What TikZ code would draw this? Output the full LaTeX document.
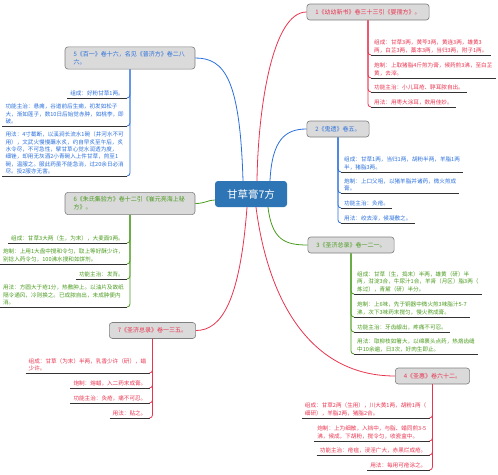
\documentclass[tikz,border=0pt]{standalone}
\usepackage{fontspec}
\setmainfont{Noto Sans CJK SC}
\usepackage{tikz}
\usetikzlibrary{positioning}
\definecolor{mapred}{HTML}{E8344F}
\definecolor{mapblue}{HTML}{2A6FDB}
\definecolor{mapgreen}{HTML}{4A9B1E}
\definecolor{hubblue}{HTML}{2E75B6}
\definecolor{topicgray}{HTML}{DADADA}
\definecolor{topicedge}{HTML}{7F7F7F}

\begin{document}
\begin{tikzpicture}[x=1pt, y=-1pt,
    hub/.style={fill=hubblue, rounded corners=3pt, text=white, font=\fontsize{10.5}{12}\selectfont, minimum width=72pt, minimum height=26pt},
    topic/.style={draw=topicedge, fill=topicgray, rounded corners=3pt, line width=0.6pt, inner xsep=8.5pt, inner ysep=4.5pt, minimum height=16pt, align=left, font=\fontsize{6}{7.6}\selectfont},
    leaf/.style={inner xsep=3pt, inner ysep=2pt, align=left, font=\fontsize{5.6}{7.3}\selectfont},
    uline/.style={black!80, line width=0.7pt},
    link/.style={line width=0.8pt},
    stem/.style={line width=0.8pt, rounded corners=3pt}]
    \useasboundingbox (0,0) rectangle (498,474);
    % hub and topics
    \node [hub] (hub) at (251,194) {甘草膏7方};
    \node [topic, text=mapred] (t1) at (368,12) {1《幼幼新书》卷三十三引《婴孺方》。};
    \node [topic, text=mapblue] (t2) at (338,129) {2《鬼遗》卷五。};
    \node [topic, text=mapgreen] (t3) at (351,245) {3《圣济总录》卷一二一。};
    \node [topic, text=mapred] (t4) at (432.5,376) {4《圣惠》卷六十二。};
    \node [topic, text=mapblue, text width=113pt] (t5) at (130,58) {5《百一》卷十六，名见《普济方》卷二八\\六。};
    \node [topic, text=mapgreen, text width=113pt] (t6) at (130,203.5) {6《朱氏集验方》卷十二引《崔元亮海上秘\\方》。};
    \node [topic, text=mapred] (t7) at (152.5,330.5) {7《圣济总录》卷一三五。};
    % hub links
    \draw [link, mapred] ([xshift=6pt]hub.north) .. controls (258,110) and (272,12) .. (t1.west);
    \draw [link, mapblue] ([xshift=19pt]hub.north) .. controls (272,140) and (285,129) .. (t2.west);
    \draw [link, mapgreen] ([xshift=17pt]hub.south) .. controls (272,240) and (285,245) .. (t3.west);
    \draw [link, mapred] ([xshift=5pt]hub.south) .. controls (268,300) and (310,376) .. (t4.west);
    \draw [link, mapblue] ([xshift=-8pt]hub.north) .. controls (240,80) and (225,58) .. (t5.east);
    \draw [link, mapgreen] (t6.east) .. controls (205,203.5) and (208,200) .. ([yshift=-6pt]hub.west);
    \draw [link, mapred] ([xshift=-4pt]hub.south) .. controls (240,300) and (222,330.5) .. (t7.east);
    % branch 1
    \node [leaf, text=mapred, anchor=south west] (a1) at (371,55) {组成：甘草3两，黄芩3两，黄连3两，雄黄3\\两，白芷3两，藁本3两，当归3两，附子1两。};
    \node [leaf, text=mapred, anchor=south west] (a2) at (371,78) {炮制：上取猪脂4斤煎为膏，候药煎3沸，至白芷\\黄，去滓。};
    \node [leaf, text=mapred, anchor=south west] (a3) at (371,92) {功能主治：小儿耳疮、聤耳脓自出。};
    \node [leaf, text=mapred, anchor=south west] (a4) at (371,107) {用法：用枣大涂耳，数用佳妙。};
    \foreach \n in {a1,a2,a3,a4} {
        \draw [uline] (\n.south west) -- (\n.south east);
        \draw [stem, mapred] (t1.south) |- (\n.south west);
    }
    % branch 2
    \node [leaf, text=mapblue, anchor=south west] (b1) at (341,172) {组成：甘草1两，当归1两，胡粉半两，羊脂1两\\半，猪脂3两。};
    \node [leaf, text=mapblue, anchor=south west] (b2) at (341,193) {炮制：上口父咀，以猪羊脂并诸药，微火煎成\\膏。};
    \node [leaf, text=mapblue, anchor=south west] (b3) at (341,208) {功能主治：灸疮。};
    \node [leaf, text=mapblue, anchor=south west] (b4) at (341,223) {用法：绞去滓，候凝敷之。};
    \foreach \n in {b1,b2,b3,b4} {
        \draw [uline] (\n.south west) -- (\n.south east);
        \draw [stem, mapblue] (t2.south) |- (\n.south west);
    }
    % branch 3
    \node [leaf, text=mapgreen, anchor=south west] (c1) at (354,294) {组成：甘草（生，捣末）半两，雄黄（研）半\\两，泔淀3合，牛尿汁1合，羊肾（月区）脂3两（\\炼过），青黛（研）半分。};
    \node [leaf, text=mapgreen, anchor=south west] (c2) at (354,317) {炮制：上6味，先于铜器中微火煎3味脂汁5-7\\沸，次下3味药末搅匀，慢火熬成膏。};
    \node [leaf, text=mapgreen, anchor=south west] (c3) at (354,332) {功能主治：牙齿龈出，疼痛不可忍。};
    \node [leaf, text=mapgreen, anchor=south west] (c4) at (354,354) {用法：取柳枝如箸大，以绵裹头点药，热烙齿缝\\中10余遍，日3次，好肉生即止。};
    \foreach \n in {c1,c2,c3,c4} {
        \draw [uline] (\n.south west) -- (\n.south east);
        \draw [stem, mapgreen] (t3.south) |- (\n.south west);
    }
    % branch 4
    \node [leaf, text=mapred, anchor=south east] (d1) at (429.5,418) {组成：甘草2两（生用），川大黄1两，胡粉1两（\\细研），羊脂2两，猪脂2合。};
    \node [leaf, text=mapred, anchor=south east] (d2) at (429.5,441) {炮制：上为细散，入铛中，与脂、蜡同煎3-5\\沸，候成，下胡粉，搅令匀，收瓷盒中。};
    \node [leaf, text=mapred, anchor=south east] (d3) at (429.5,455) {功能主治：疮疽，浸淫广大，赤黑烂成疮。};
    \node [leaf, text=mapred, anchor=south east] (d4) at (429.5,470) {用法：每用可疮涂之。};
    \foreach \n in {d1,d2,d3,d4} {
        \draw [uline] (\n.south west) -- (\n.south east);
        \draw [stem, mapred] (t4.south) |- (\n.south east);
    }
    % branch 5
    \node [leaf, text=mapblue, anchor=south east] (e1) at (127,98) {组成：好粉甘草1两。};
    \node [leaf, text=mapblue, anchor=south east] (e2) at (127,126) {功能主治：悬痈，谷道前后生痈，初发如松子\\大，渐如莲子，数10日后始觉赤肿，如桃李，即\\破。};
    \node [leaf, text=mapblue, anchor=south east] (e3) at (127,176) {用法：4寸截断，以溪涧长流水1碗（井河水不可\\用），文武火慢慢蘸水炙，约自早炙至午后，炙\\水令尽，不可急性，擘甘草心觉水润透为度，\\细锉，却用无灰酒2小青碗入上件甘草，煎至1\\碗，温服之。服此药虽不能急消，过20余日必消\\尽。投2服亦无害。};
    \foreach \n in {e1,e2,e3} {
        \draw [uline] (\n.south west) -- (\n.south east);
        \draw [stem, mapblue] (t5.south) |- (\n.south east);
    }
    % branch 6
    \node [leaf, text=mapgreen, anchor=south east] (f1) at (127,243) {组成：甘草3大两（生，为末），大麦面9两。};
    \node [leaf, text=mapgreen, anchor=south east] (f2) at (127,264) {炮制：上用1大盘中搅和令匀，取上等好酥少许，\\别捻入药令匀，100沸水搜和如饼剂。};
    \node [leaf, text=mapgreen, anchor=south east] (f3) at (127,279) {功能主治：发背。};
    \node [leaf, text=mapgreen, anchor=south east] (f4) at (127,307) {用法：方圆大于疮1分，热敷肿上。以油片及故纸\\隔令通风，冷则换之。已成脓自出，未成肿便内\\消。};
    \foreach \n in {f1,f2,f3,f4} {
        \draw [uline] (\n.south west) -- (\n.south east);
        \draw [stem, mapgreen] (t6.south) |- (\n.south east);
    }
    % branch 7
    \node [leaf, text=mapred, anchor=south east] (g1) at (149.5,373) {组成：甘草（为末）半两，乳香少许（研），蜡\\少许。};
    \node [leaf, text=mapred, anchor=south east] (g2) at (149.5,388) {炮制：熔蜡，入二药末成膏。};
    \node [leaf, text=mapred, anchor=south east] (g3) at (149.5,403) {功能主治：灸疮，痛不可忍。};
    \node [leaf, text=mapred, anchor=south east] (g4) at (149.5,418) {用法：贴之。};
    \foreach \n in {g1,g2,g3,g4} {
        \draw [uline] (\n.south west) -- (\n.south east);
        \draw [stem, mapred] (t7.south) |- (\n.south east);
    }
\end{tikzpicture}
\end{document}
